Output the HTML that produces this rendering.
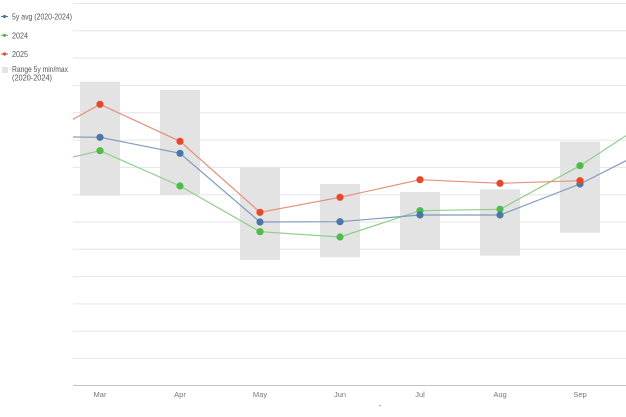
<!DOCTYPE html>
<html><head><meta charset="utf-8"><style>
html,body{margin:0;padding:0;background:#fff;}
svg{display:block;}
text{font-family:"Liberation Sans",sans-serif;}
</style></head><body>
<svg width="626" height="417" viewBox="0 0 626 417" xmlns="http://www.w3.org/2000/svg">
<defs><clipPath id="pc"><rect x="73" y="0" width="553" height="386"/></clipPath></defs>
<g stroke="#e6e6e6" stroke-width="1">
<line x1="73" x2="626" y1="3.5" y2="3.5"/>
<line x1="73" x2="626" y1="30.8" y2="30.8"/>
<line x1="73" x2="626" y1="58.1" y2="58.1"/>
<line x1="73" x2="626" y1="85.5" y2="85.5"/>
<line x1="73" x2="626" y1="112.8" y2="112.8"/>
<line x1="73" x2="626" y1="140.1" y2="140.1"/>
<line x1="73" x2="626" y1="167.4" y2="167.4"/>
<line x1="73" x2="626" y1="194.7" y2="194.7"/>
<line x1="73" x2="626" y1="222" y2="222"/>
<line x1="73" x2="626" y1="249.3" y2="249.3"/>
<line x1="73" x2="626" y1="276.6" y2="276.6"/>
<line x1="73" x2="626" y1="303.9" y2="303.9"/>
<line x1="73" x2="626" y1="331.2" y2="331.2"/>
<line x1="73" x2="626" y1="358.5" y2="358.5"/>
</g>
<line x1="73" x2="626" y1="385.5" y2="385.5" stroke="#c4c4c4" stroke-width="1"/>
<g fill="#e3e3e3">
<rect x="80" y="81.7" width="40" height="114"/>
<rect x="160" y="90" width="40" height="104.7"/>
<rect x="240" y="167.7" width="40" height="92.3"/>
<rect x="320" y="184" width="40" height="73.3"/>
<rect x="400" y="192" width="40" height="58"/>
<rect x="480" y="189.3" width="40" height="66.4"/>
<rect x="560" y="141.7" width="40" height="91"/>
</g>
<g clip-path="url(#pc)" fill="none" stroke-width="1.2">
<polyline stroke="#8ecf88" points="20,169.4 100,150.7 180,186 260,231.7 340,237 420,210.7 500,209.3 580,165.7 660,113.5"/>
<polyline stroke="#7f9cbd" points="20,136.5 100,137.3 180,153.3 260,222 340,221.7 420,215 500,215 580,184 660,143.5"/>
<polyline stroke="#e3917a" points="20,148.7 100,104.3 180,141.3 260,212.3 340,197.3 420,179.7 500,183.3 580,180.7"/>
</g>
<g fill="#4cbd48">
<circle cx="100" cy="150.7" r="3.6"/><circle cx="180" cy="186" r="3.6"/><circle cx="260" cy="231.7" r="3.6"/><circle cx="340" cy="237" r="3.6"/><circle cx="420" cy="210.7" r="3.6"/><circle cx="500" cy="209.3" r="3.6"/><circle cx="580" cy="165.7" r="3.6"/>
</g>
<g fill="#4a77a6">
<circle cx="100" cy="137.3" r="3.6"/><circle cx="180" cy="153.3" r="3.6"/><circle cx="260" cy="222" r="3.6"/><circle cx="340" cy="221.7" r="3.6"/><circle cx="420" cy="215" r="3.6"/><circle cx="500" cy="215" r="3.6"/><circle cx="580" cy="184" r="3.6"/>
</g>
<g fill="#e8482a">
<circle cx="100" cy="104.3" r="3.6"/><circle cx="180" cy="141.3" r="3.6"/><circle cx="260" cy="212.3" r="3.6"/><circle cx="340" cy="197.3" r="3.6"/><circle cx="420" cy="179.7" r="3.6"/><circle cx="500" cy="183.3" r="3.6"/><circle cx="580" cy="180.7" r="3.6"/>
</g>
<g font-size="7.5" fill="#777" text-anchor="middle">
<text x="100" y="397">Mar</text><text x="180" y="397">Apr</text><text x="260" y="397">May</text><text x="340" y="397">Jun</text><text x="420" y="397">Jul</text><text x="500" y="397">Aug</text><text x="580" y="397">Sep</text>
</g>
<circle cx="380" cy="405.5" r="0.8" fill="#999"/>
<g>
<line x1="1" x2="8" y1="16.5" y2="16.5" stroke="#4a77a6" stroke-width="1"/><circle cx="4.5" cy="16.5" r="1.6" fill="#4a77a6"/>
<line x1="1" x2="8" y1="35.3" y2="35.3" stroke="#4cbd48" stroke-width="1"/><circle cx="4.5" cy="35.3" r="1.6" fill="#4cbd48"/>
<line x1="1" x2="8" y1="54" y2="54" stroke="#e8482a" stroke-width="1"/><circle cx="4.5" cy="54" r="1.6" fill="#e8482a"/>
<rect x="2" y="67" width="6" height="6" fill="#e3e3e3"/>
</g>
<g font-size="8.5" fill="#555">
<text x="12" y="19.5" textLength="60" lengthAdjust="spacingAndGlyphs">5y avg (2020-2024)</text>
<text x="12" y="38.3" textLength="16" lengthAdjust="spacingAndGlyphs">2024</text>
<text x="12" y="57" textLength="16" lengthAdjust="spacingAndGlyphs">2025</text>
<text x="12" y="72" textLength="56" lengthAdjust="spacingAndGlyphs">Range 5y min/max</text>
<text x="12" y="80.3" textLength="40" lengthAdjust="spacingAndGlyphs">(2020-2024)</text>
</g>
</svg>
</body></html>
